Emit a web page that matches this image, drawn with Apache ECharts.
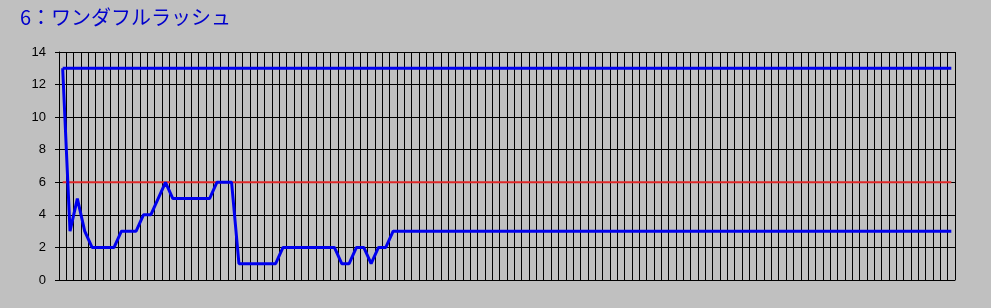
<!DOCTYPE html>
<html>
<head>
<meta charset="utf-8">
<script src="https://cdn.jsdelivr.net/npm/echarts@6/dist/echarts.min.js"></script>
<style>
html,body{margin:0;padding:0;background:#c0c0c0;}
#c{width:991px;height:308px;}
</style>
</head>
<body>
<div id="c"></div>
<script>
var titleText = '6：ワンダフルラッシュ';
var yTicks = [0, 2, 4, 6, 8, 10, 12, 14];
var mainHead = [13, 3, 5, 3, 2, 2, 2, 2, 3, 3, 3, 4, 4, 5, 6, 5, 5, 5, 5, 5, 5, 6, 6, 6,
                1, 1, 1, 1, 1, 1, 2, 2, 2, 2, 2, 2, 2, 2, 1, 1, 2, 2, 1, 2, 2];
var mainTail = [3,3,3,3,3,3,3,3,3,3,3,3,3,3,3,3,3,3,3,3,3,3,3,3,3,3,3,3,3,3,3,3,3,3,3,3,3,3,3,
                3,3,3,3,3,3,3,3,3,3,3,3,3,3,3,3,3,3,3,3,3,3,3,3,3,3,3,3,3,3,3,3,3,3,3,3,3,3];
var mainValues = mainHead.concat(mainTail);
var topValues = mainValues.map(function(){ return 13; });
var redValues = mainValues.map(function(){ return 6; });
var categories = mainValues.map(function(v, i){ return String(i + 1); });

var chart = echarts.init(document.getElementById('c'));
chart.setOption({
  backgroundColor: '#c0c0c0',
  animation: false,
  title: {
    text: titleText,
    left: 15, top: 2,
    textStyle: {color: '#0000cc', fontSize: 20, fontWeight: 'normal', fontFamily: '"Noto Sans CJK JP", sans-serif'}
  },
  grid: {left: 59, right: 36, top: 52, bottom: 28},
  xAxis: {
    type: 'category',
    data: categories,
    boundaryGap: true,
    axisLine: {lineStyle: {color: '#000', width: 1}},
    axisTick: {show: false},
    axisLabel: {show: false},
    splitLine: {show: true, interval: 0, lineStyle: {color: '#000', width: 1}}
  },
  yAxis: {
    type: 'value',
    min: yTicks[0], max: yTicks[yTicks.length - 1], interval: 2,
    axisLine: {show: true, lineStyle: {color: '#000', width: 1}},
    axisTick: {show: true, length: 4, lineStyle: {color: '#000'}},
    axisLabel: {color: '#000', fontSize: 13, margin: 13, fontFamily: '"Liberation Sans", Arial, sans-serif'},
    splitLine: {show: true, lineStyle: {color: '#000', width: 1}}
  },
  series: [
    {type: 'line', data: redValues, symbol: 'none', lineStyle: {color: '#e02828', width: 2}, z: 3},
    {type: 'line', data: topValues, symbol: 'none', lineStyle: {color: '#0000ee', width: 3}, z: 4},
    {type: 'line', data: mainValues, symbol: 'none', lineStyle: {color: '#0000ee', width: 3}, z: 5}
  ]
});
</script>
</body>
</html>
